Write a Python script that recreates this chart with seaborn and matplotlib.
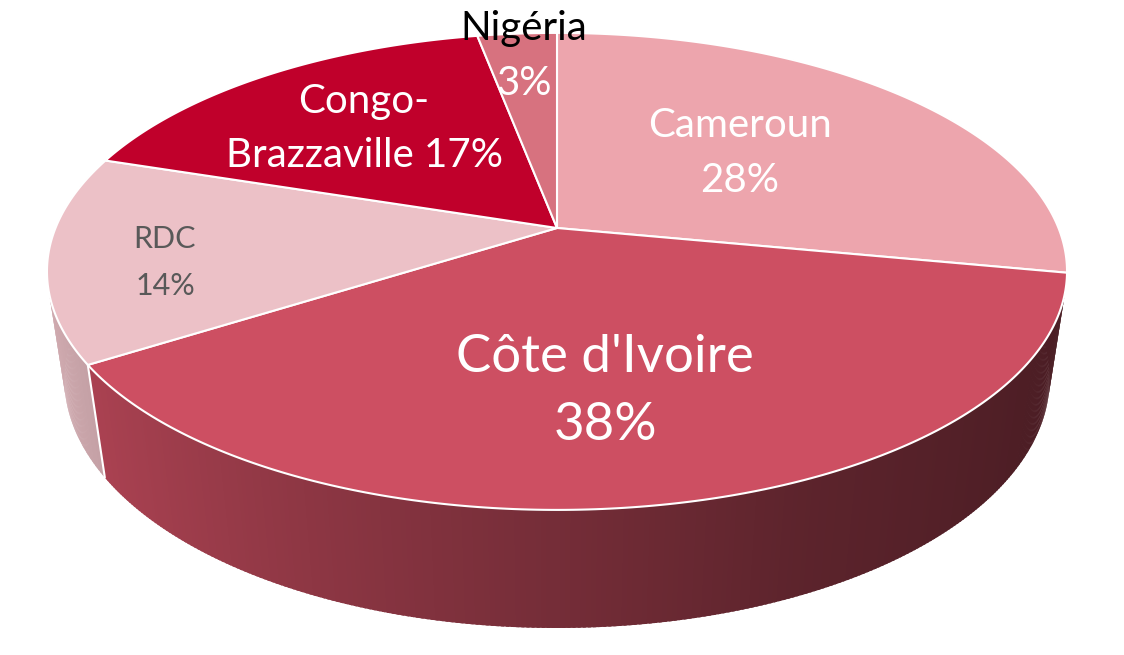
import numpy as np
import matplotlib
matplotlib.use("Agg")
import matplotlib.pyplot as plt
from matplotlib.patches import Polygon
import seaborn as sns

# ---- data ----
countries = ["Cameroun", "Côte d'Ivoire", "RDC", "Congo-Brazzaville", "Nigéria"]
shares = [28, 38, 14, 17, 3]
slice_colors = ["#EDA5AD", "#CD4F62", "#ECC1C7", "#C0002B", "#D7727F"]

# label layout (pixel coords): x centre, name baseline, pct baseline
label_x = [740, 605, 165, 364, 524]
name_y = [137, 372, 248, 113, 40]
pct_y = [192, 440, 295, 167, 95]
label_size = [29, 38, 22, 29, 29]
label_color = ["white", "white", "#595959", "white", "white"]

sns.set_theme(style="white")
plt.rcParams["font.family"] = ["Lato", "DejaVu Sans"]

# ---- perspective of the 3D pie ----
CX, CY = 557, 228
A, B = 501.5, 230.6
K, M, D = 0.182, 0.034, 110.2


def proj(phi, h):
    u, v = np.sin(phi), -np.cos(phi)
    w = 1 - K * v + M * h
    return CX + A * u / w, CY + (B * v + D * h) / w


def shade(phi):
    # light from the left: wall gets darker as it turns to the right
    return np.interp(np.sin(phi), [-1, -0.84, -0.42, 0, 0.42, 0.85, 1],
                     [0.90, 0.83, 0.69, 0.57, 0.45, 0.38, 0.36])


fig = plt.figure(figsize=(11.24, 6.55), dpi=100)
ax = fig.add_axes([0, 0, 1, 1])
ax.set_xlim(0, 1124)
ax.set_ylim(655, 0)
ax.axis("off")

pal = sns.color_palette(slice_colors)
bounds = np.radians(np.concatenate([[0], np.cumsum(shares)]) * 3.6)

# side walls, drawn back to front as thin overlapping strips
step = np.radians(0.5)
strips = []
for i in range(len(shares)):
    n = max(int(np.ceil((bounds[i + 1] - bounds[i]) / step)), 1)
    angs = np.linspace(bounds[i], bounds[i + 1], n + 1)
    for j, (p0, p1) in enumerate(zip(angs[:-1], angs[1:])):
        pe = min(p1 + step * 0.6, bounds[i + 1]) if j < n - 1 else p1
        pts = [proj(p0, 0), proj(pe, 0), proj(pe, 1), proj(p0, 1)]
        pm = (p0 + p1) / 2
        col = np.clip(np.array(pal[i]) * shade(pm), 0, 1)
        strips.append((-np.cos(pm), pts, col))
strips.sort(key=lambda s: s[0])
for _, pts, col in strips:
    ax.add_patch(Polygon(pts, closed=True, facecolor=col, edgecolor="none", lw=0))

# white edges on the visible slice borders of the wall
for b in bounds:
    if -np.cos(b) > 0.3:
        x0, y0 = proj(b, 0)
        x1, y1 = proj(b, 1)
        ax.plot([x0, x1], [y0, y1], color="white", lw=1.5)

# top faces
for i in range(len(shares)):
    angs = np.linspace(bounds[i], bounds[i + 1], 200)
    pts = [(CX, CY)] + [proj(a, 0) for a in angs]
    ax.add_patch(Polygon(pts, closed=True, facecolor=pal[i], edgecolor="white",
                         lw=1.5, joinstyle="round"))

# labels
for i, name in enumerate(countries):
    pct = f"{shares[i]}%"
    if name == "Congo-Brazzaville":
        line1, line2 = "Congo-", f"Brazzaville {pct}"
    else:
        line1, line2 = name, pct
    c1 = "black" if name == "Nigéria" else label_color[i]
    ax.text(label_x[i], name_y[i], line1, ha="center", va="baseline",
            fontsize=label_size[i], color=c1)
    ax.text(label_x[i], pct_y[i], line2, ha="center", va="baseline",
            fontsize=label_size[i], color=label_color[i])

fig.savefig("out.png", dpi=100, facecolor="white")
